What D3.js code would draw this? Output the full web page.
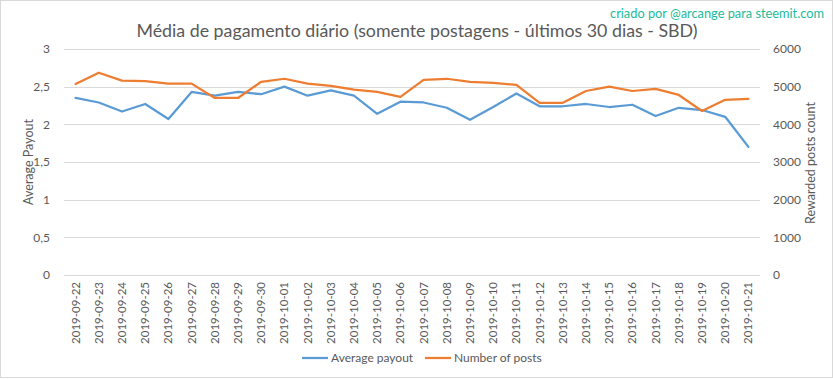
<!DOCTYPE html>
<html><head><meta charset="utf-8">
<script src="https://cdn.jsdelivr.net/npm/d3@7"></script>
<style>body{margin:0;background:#fff}svg{display:block}</style>
</head><body><svg id="c" width="833" height="379"></svg>
<script>
const dates = ["2019-09-22","2019-09-23","2019-09-24","2019-09-25","2019-09-26","2019-09-27","2019-09-28","2019-09-29","2019-09-30","2019-10-01","2019-10-02","2019-10-03","2019-10-04","2019-10-05","2019-10-06","2019-10-07","2019-10-08","2019-10-09","2019-10-10","2019-10-11","2019-10-12","2019-10-13","2019-10-14","2019-10-15","2019-10-16","2019-10-17","2019-10-18","2019-10-19","2019-10-20","2019-10-21"];
const avgPayout = [2.35,2.29,2.17,2.27,2.07,2.43,2.38,2.43,2.40,2.50,2.38,2.45,2.38,2.14,2.30,2.29,2.22,2.06,2.23,2.41,2.24,2.24,2.27,2.23,2.26,2.11,2.22,2.19,2.10,1.70];
const numPosts = [5070,5370,5160,5150,5080,5080,4700,4700,5130,5210,5080,5020,4920,4860,4730,5180,5210,5130,5100,5045,4570,4570,4885,5000,4885,4940,4780,4355,4650,4675];
const leftTicks = [0,0.5,1,1.5,2,2.5,3];
const rightTicks = [0,1000,2000,3000,4000,5000,6000];
const leftTickLabels = ["0","0,5","1","1,5","2","2,5","3"];
const seriesNames = ["Average payout","Number of posts"];
const colors = ["#5B9BD5","#ED7D31"];

const svg = d3.select("#c");
const font = "Lato, 'Open Sans', sans-serif";
const txt = "#595959";
svg.append("rect").attr("x",0.5).attr("y",0.5).attr("width",832).attr("height",377).attr("fill","#fff").attr("stroke","#D9D9D9");

const L=64, R=760, T=49, B=275;
const x = d3.scaleBand().domain(dates).range([L,R]);
const yL = d3.scaleLinear().domain([0,3]).range([B,T]);
const yR = d3.scaleLinear().domain([0,6000]).range([B,T]);

// gridlines
svg.append("g").selectAll("line").data(leftTicks).join("line")
  .attr("x1",L).attr("x2",R).attr("y1",d=>Math.round(yL(d))+0.5).attr("y2",d=>Math.round(yL(d))+0.5)
  .attr("stroke","#D9D9D9").attr("stroke-width",1);

// left axis labels
const gl = svg.append("g").attr("transform",`translate(${L-14},0)`)
  .call(d3.axisLeft(yL).tickValues(leftTicks).tickFormat((d,i)=>leftTickLabels[i]).tickSize(0).tickPadding(0));
gl.select(".domain").remove();
gl.selectAll("text").attr("font-family",font).attr("font-size",12).attr("fill",txt);

const gr = svg.append("g").attr("transform",`translate(${R+13},0)`)
  .call(d3.axisRight(yR).tickValues(rightTicks).tickSize(0).tickPadding(0).tickFormat(d3.format("d")));
gr.select(".domain").remove();
gr.selectAll("text").attr("font-family",font).attr("font-size",12).attr("fill",txt);

// x axis labels
const gx = svg.append("g").attr("transform",`translate(0,${B})`)
  .call(d3.axisBottom(x).tickSize(0).tickPadding(0));
gx.select(".domain").remove();
gx.selectAll("text").attr("font-family",font).attr("font-size",11.5).attr("fill",txt)
  .attr("transform","rotate(-90)").attr("text-anchor","end").attr("dy","0.35em").attr("x",-7).attr("y",0);

// lines
const cx = d=>x(d)+x.bandwidth()/2;
svg.append("path").datum(avgPayout).attr("fill","none").attr("stroke",colors[0]).attr("stroke-width",2.25)
  .attr("stroke-linejoin","round").attr("stroke-linecap","round")
  .attr("d",d3.line().x((d,i)=>cx(dates[i])).y(d=>yL(d)));
svg.append("path").datum(numPosts).attr("fill","none").attr("stroke",colors[1]).attr("stroke-width",2.25)
  .attr("stroke-linejoin","round").attr("stroke-linecap","round")
  .attr("d",d3.line().x((d,i)=>cx(dates[i])).y(d=>yR(d)));

// axis titles
svg.append("text").attr("transform",`translate(33,${(T+B)/2}) rotate(-90)`).attr("text-anchor","middle")
  .attr("font-family",font).attr("font-size",12.5).attr("fill",txt).text("Average Payout");
svg.append("text").attr("transform",`translate(815,${(T+B)/2+1}) rotate(-90)`).attr("text-anchor","middle")
  .attr("font-family",font).attr("font-size",12.5).attr("fill",txt).text("Rewarded posts count");

// title
svg.append("text").attr("x",417).attr("y",37).attr("text-anchor","middle")
  .attr("font-family",font).attr("font-size",17.8).attr("fill",txt)
  .text("Média de pagamento diário (somente postagens - últimos 30 dias - SBD)");
svg.append("text").attr("x",824).attr("y",18).attr("text-anchor","end")
  .attr("font-family",font).attr("font-size",12.8).attr("fill","#1BBC9B")
  .text("criado por @arcange para steemit.com");

// legend
const leg = svg.append("g");
const legX = [302,425];
seriesNames.forEach((n,i)=>{
  leg.append("line").attr("x1",legX[i]).attr("x2",legX[i]+26).attr("y1",358).attr("y2",358)
    .attr("stroke",colors[i]).attr("stroke-width",2.25);
  leg.append("text").attr("x",legX[i]+29).attr("y",362).attr("font-family",font).attr("font-size",12)
    .attr("fill",txt).text(n);
});
</script></body></html>
